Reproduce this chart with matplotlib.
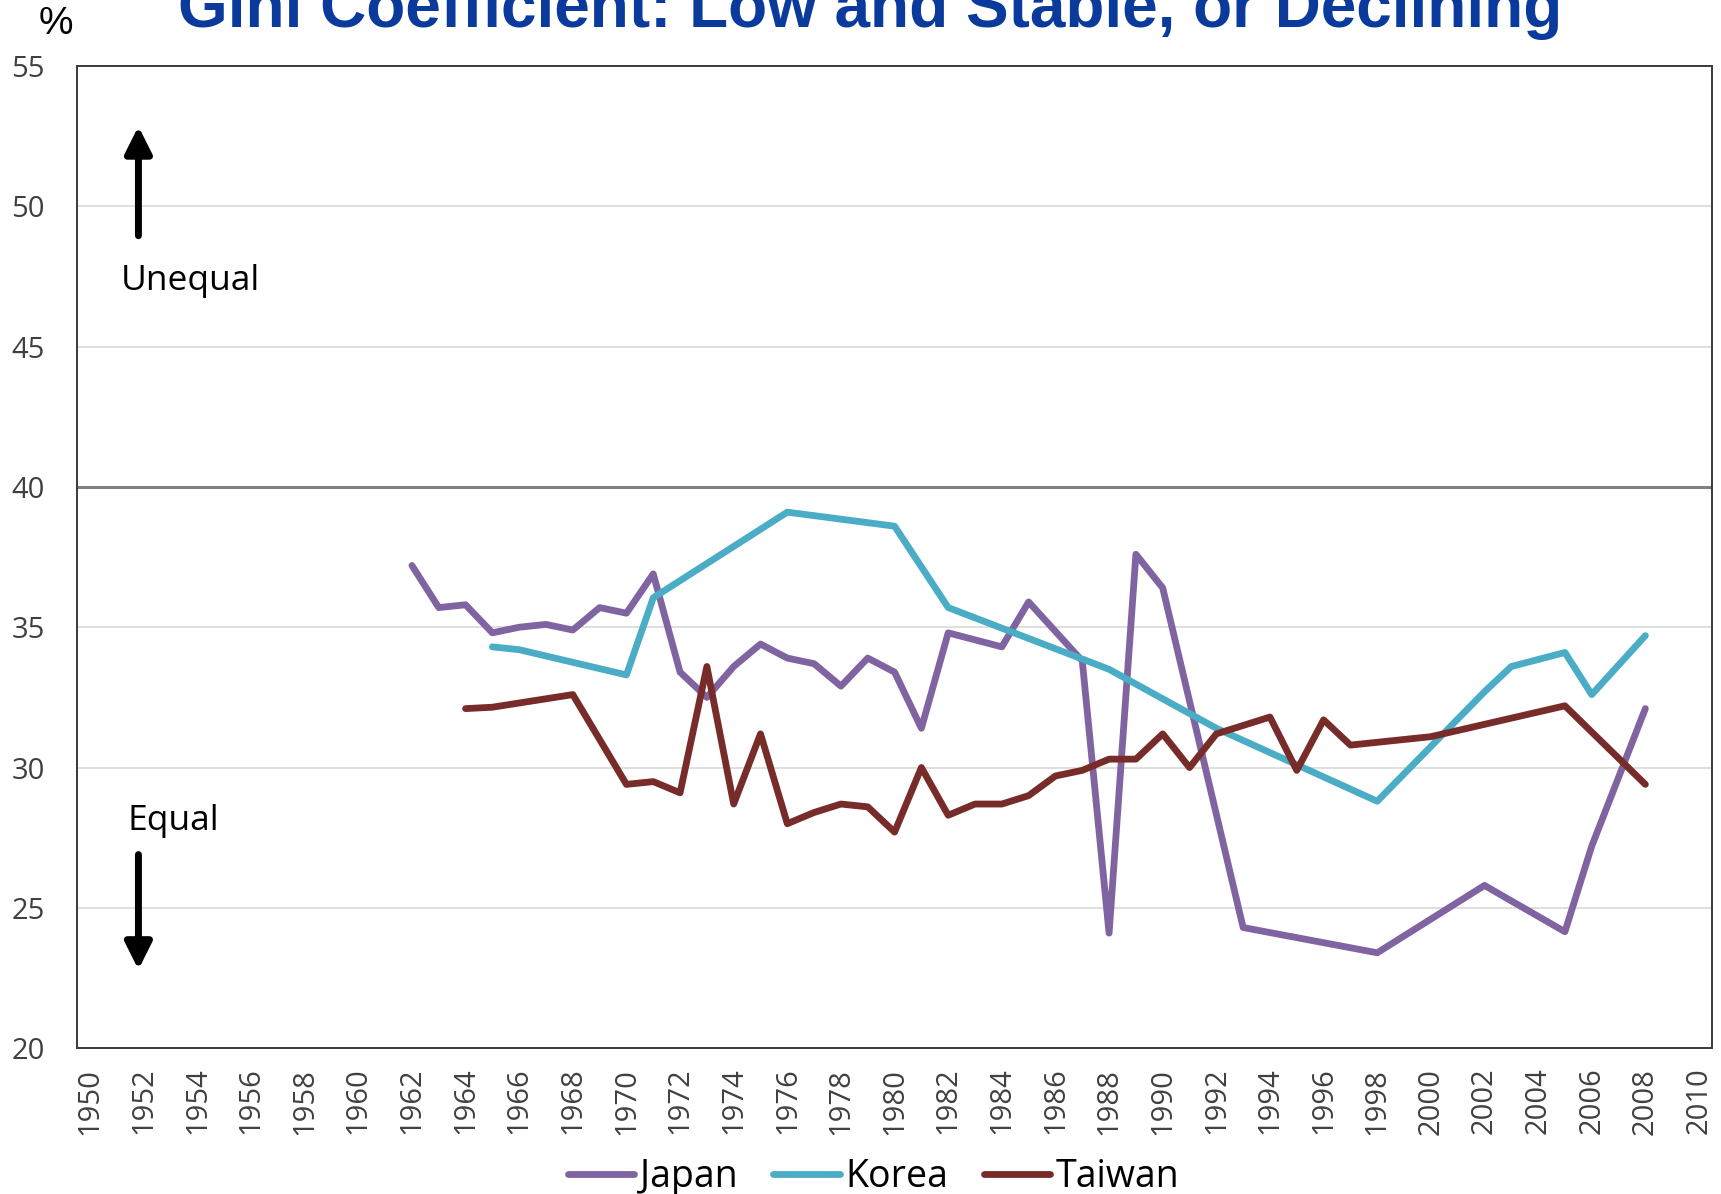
import matplotlib
matplotlib.use("Agg")
import matplotlib.pyplot as plt

plt.rcParams['font.family'] = ['Open Sans', 'DejaVu Sans']

# Gini coefficient (%)
japan_years = [1962, 1963, 1964, 1965, 1966, 1967, 1968, 1969, 1970, 1971, 1972, 1973,
               1974, 1975, 1976, 1977, 1978, 1979, 1980, 1981, 1982, 1984, 1985, 1987,
               1988, 1989, 1990, 1993, 1998, 2000, 2002, 2005, 2006, 2008]
japan = [37.2, 35.7, 35.8, 34.8, 35.0, 35.1, 34.9, 35.7, 35.5, 36.9, 33.4, 32.5,
         33.6, 34.4, 33.9, 33.7, 32.9, 33.9, 33.4, 31.4, 34.8, 34.3, 35.9, 33.8,
         24.1, 37.6, 36.4, 24.3, 23.4, 24.6, 25.8, 24.15, 27.2, 32.1]

korea_years = [1965, 1966, 1970, 1971, 1976, 1980, 1982, 1988, 1992, 1998, 2002,
               2003, 2005, 2006, 2008]
korea = [34.3, 34.2, 33.3, 36.05, 39.1, 38.6, 35.7, 33.5, 31.4, 28.8, 32.7,
         33.6, 34.1, 32.6, 34.7]

taiwan_years = [1964, 1965, 1966, 1967, 1968, 1970, 1971, 1972, 1973, 1974, 1975,
                1976, 1977, 1978, 1979, 1980, 1981, 1982, 1983, 1984, 1985, 1986,
                1987, 1988, 1989, 1990, 1991, 1992, 1993, 1994, 1995, 1996, 1997,
                2000, 2005, 2008]
taiwan = [32.1, 32.15, 32.3, 32.45, 32.6, 29.4, 29.5, 29.1, 33.6, 28.7, 31.2,
          28.0, 28.4, 28.7, 28.6, 27.7, 30.0, 28.3, 28.7, 28.7, 29.0, 29.7,
          29.9, 30.3, 30.3, 31.2, 30.0, 31.2, 31.5, 31.8, 29.9, 31.7, 30.8,
          31.1, 32.2, 29.4]

x_ticks = list(range(1950, 2011, 2))
y_ticks = [20, 25, 30, 35, 40, 45, 50, 55]

fig = plt.figure(figsize=(17.21, 11.94), dpi=100)
ax = fig.add_axes([0.0446, 0.1221, 0.9504, 0.8227])

lw = 4.9
l1, = ax.plot(japan_years, japan, color='#8064A2', lw=lw, solid_joinstyle='round',
              solid_capstyle='round', label='Japan', zorder=3)
l2, = ax.plot(korea_years, korea, color='#4BACC6', lw=lw, solid_joinstyle='round',
              solid_capstyle='round', label='Korea', zorder=3)
l3, = ax.plot(taiwan_years, taiwan, color='#772C2A', lw=lw, solid_joinstyle='round',
              solid_capstyle='round', label='Taiwan', zorder=3)

ax.set_xlim(1949.5, 2010.5)
ax.set_ylim(20, 55)
ax.set_xticks(x_ticks)
ax.set_xticklabels([str(y) for y in x_ticks], rotation=90)
ax.set_yticks(y_ticks)

# grid lines, the 40 line is darker
for v in y_ticks:
    if v in (20, 55):
        continue
    if v == 40:
        ax.axhline(v, color='#808080', lw=2.2, zorder=1)
    else:
        ax.axhline(v, color='#D9D9D9', lw=1.2, zorder=1)

for s in ax.spines.values():
    s.set_color('#3a3a3a')
    s.set_linewidth(1.4)

ax.tick_params(axis='both', length=0, labelcolor='#404040', labelsize=21)
ax.tick_params(axis='y', pad=23)
ax.tick_params(axis='x', pad=14)

# Unequal / Equal markers
arrow = dict(arrowstyle='-|>,head_length=0.8,head_width=0.4', lw=5, color='black',
             shrinkA=0, shrinkB=0, mutation_scale=20)
ax.annotate('', xy=(1951.8, 52.85), xytext=(1951.8, 48.95), arrowprops=arrow)
ax.annotate('', xy=(1951.8, 22.8), xytext=(1951.8, 26.9), arrowprops=arrow)
ax.text(1953.72, 47.35, 'Unequal', fontsize=25.5, ha='center', va='center', color='black')
ax.text(1953.1, 28.1, 'Equal', fontsize=25.5, ha='center', va='center', color='black')

fig.text(0.5055, 1 - 27.4 / 1194, 'Gini Coefficient: Low and Stable, or Declining',
         fontsize=46, fontweight='bold', color='#0A3A9C', ha='center', va='baseline',
         family=['Liberation Sans', 'DejaVu Sans'])
fig.text(0.0322, 1 - 24.5 / 1194, '%', fontsize=28, ha='center', va='center',
         family=['Liberation Sans', 'DejaVu Sans'])

fig.legend(handles=[l1, l2, l3], loc='center', bbox_to_anchor=(0.5076, 0.0142), ncol=3,
           frameon=False, fontsize=27, handlelength=1.77, handletextpad=0.15,
           columnspacing=0.95)

fig.savefig('out.png', dpi=100)
